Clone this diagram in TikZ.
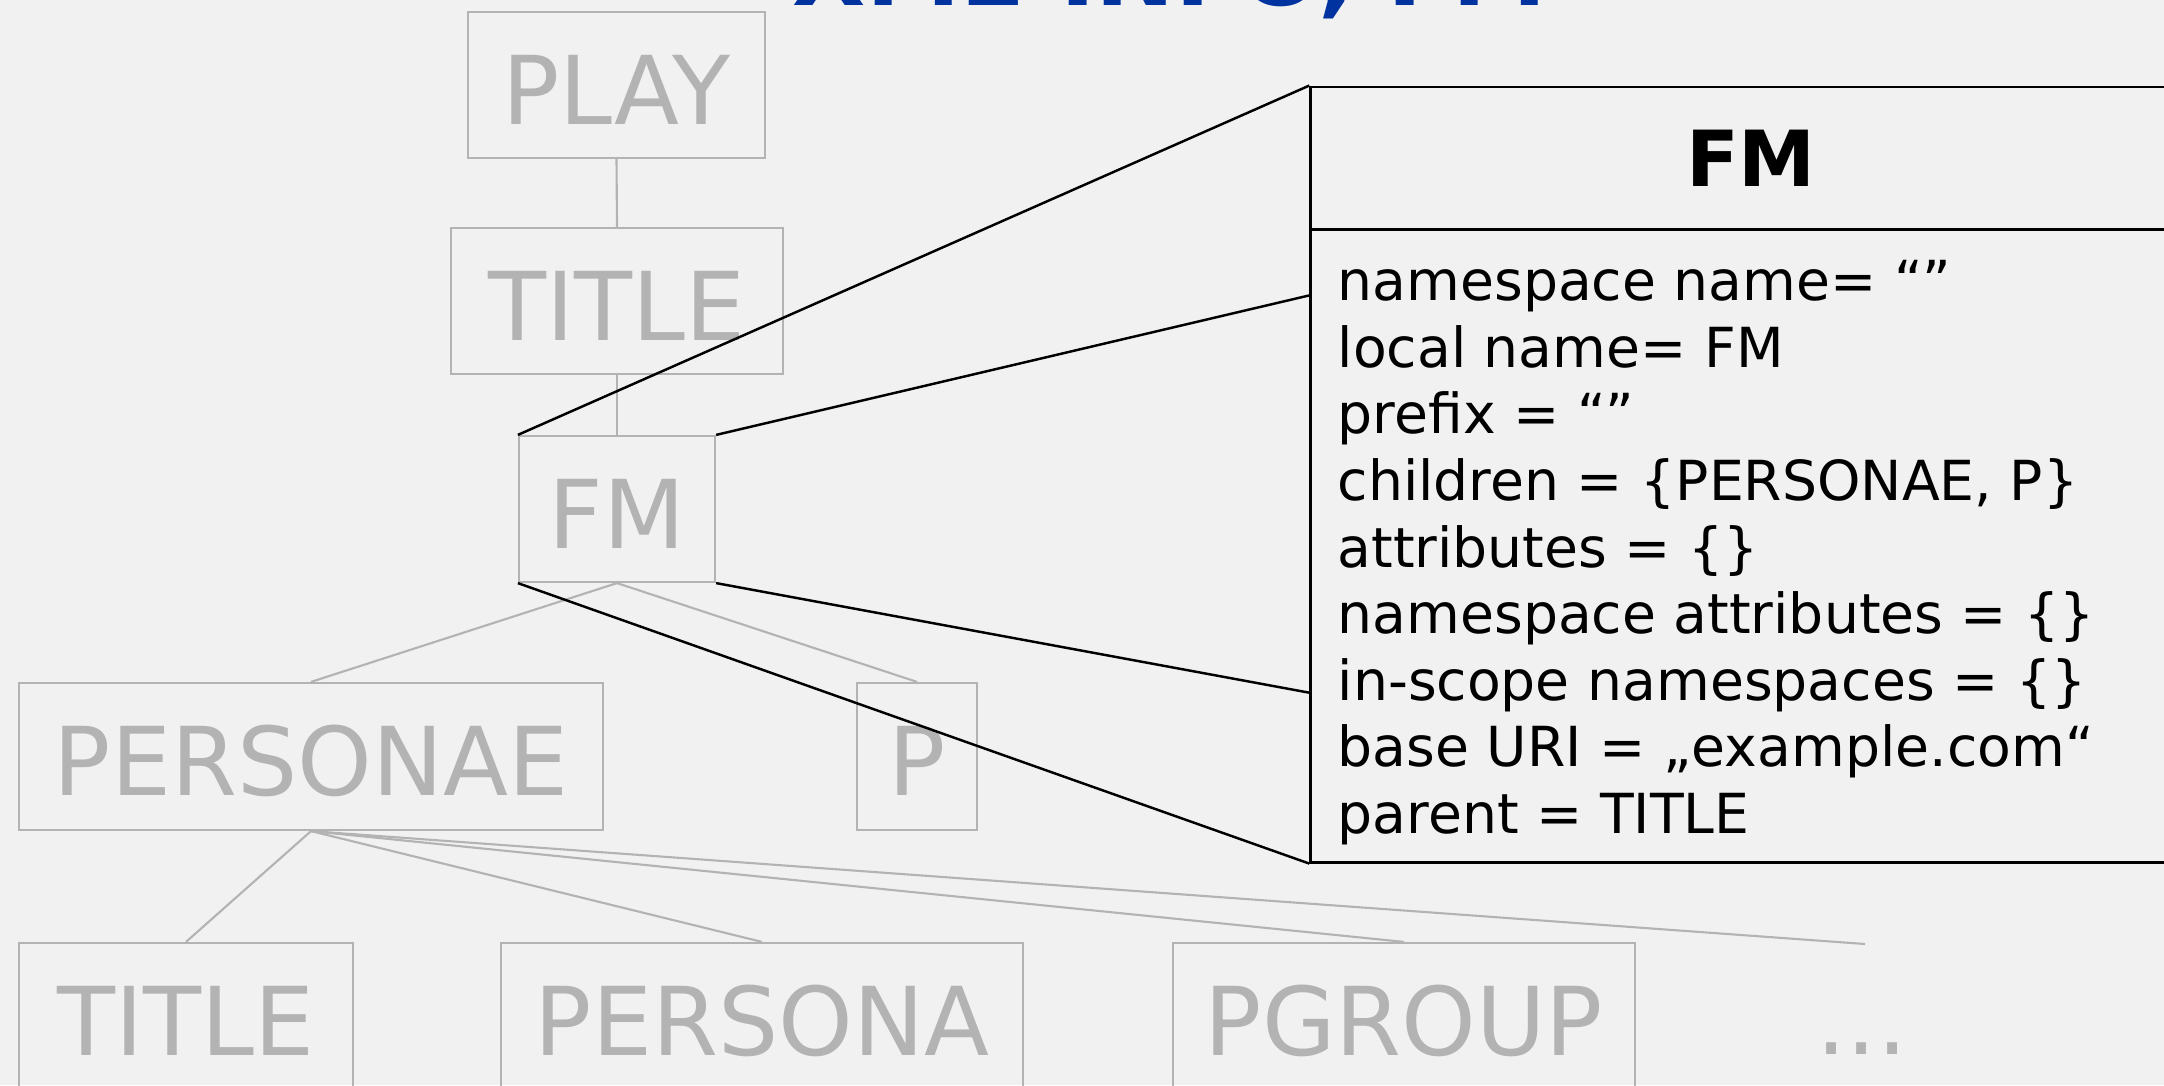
\documentclass[tikz,border=0pt]{standalone}
\usepackage{fontspec}
\setmainfont{DejaVu Sans}
\definecolor{bg}{RGB}{241,241,241}
\definecolor{treegray}{RGB}{179,179,179}
\definecolor{titleblue}{RGB}{0,51,160}
\begin{document}
\begin{tikzpicture}[x=0.01cm,y=-0.01cm,
  treebox/.style={draw=treegray,line width=0.6pt,inner sep=0pt,text=treegray,
    font=\fontsize{27pt}{32pt}\selectfont,text height=0.78cm,text depth=0pt},
  treeline/.style={draw=treegray,line width=0.6pt},
  zoomline/.style={draw=black,line width=0.7pt},
  infobox/.style={draw=black,line width=0.8pt,inner sep=0pt,minimum width=8.8cm},
  infoline/.style={anchor=base west,inner sep=0pt,font=\fontsize{15.7pt}{19pt}\selectfont}]
\useasboundingbox (0,0) rectangle (2164,1085);
\clip (0,0) rectangle (2164,1085);
\fill[bg] (0,0) rectangle (2164,1085);

% slide heading
\node[anchor=base,inner sep=0pt,text=titleblue,font=\bfseries\fontsize{27pt}{32pt}\selectfont] (heading) at (1170,6) {XML-INFO, FM};

% document tree
\node[treebox,minimum width=2.97cm,minimum height=1.46cm] (play) at (616.5,85) {PLAY};
\node[treebox,minimum width=3.32cm,minimum height=1.46cm] (title1) at (617,301) {TITLE};
\node[treebox,minimum width=1.96cm,minimum height=1.46cm] (fm) at (617,509) {FM};
\node[treebox,minimum width=5.84cm,minimum height=1.47cm] (personae) at (311,756.5) {PERSONAE};
\node[treebox,minimum width=1.20cm,minimum height=1.47cm] (p) at (917,756.5) {P};
\node[treebox,minimum width=3.34cm,minimum height=1.47cm] (title2) at (186,1016.5) {TITLE};
\node[treebox,minimum width=5.22cm,minimum height=1.47cm] (persona) at (762,1016.5) {PERSONA};
\node[treebox,minimum width=4.62cm,minimum height=1.47cm] (pgroup) at (1404,1016.5) {PGROUP};
\node[anchor=base,inner sep=0pt,text=treegray,font=\fontsize{27pt}{32pt}\selectfont] (dots) at (1862,1054) {...};
\coordinate (more) at (1865,944);

\draw[treeline] (play.south) -- (title1.north);
\draw[treeline] (title1.south) -- (fm.north);
\draw[treeline] (fm.south) -- (personae.north);
\draw[treeline] (fm.south) -- (p.north);
\draw[treeline] (personae.south) -- (title2.north);
\draw[treeline] (personae.south) -- (persona.north);
\draw[treeline] (personae.south) -- (pgroup.north);
\draw[treeline] (personae.south) -- (more);

% detail box for FM
\node[infobox,minimum height=1.43cm,font=\bfseries\fontsize{22pt}{26pt}\selectfont] (infohead) at (1751,158.5) {FM};
\node[infobox,minimum height=6.32cm] (infobody) at (1751,546) {};
\coordinate (zin1) at (1311,295);
\coordinate (zin2) at (1311,693);

\node[infoline] (l1) at (1337,300) {namespace name= “”};
\node[infoline] (l2) at (1337,367) {local name= FM};
\node[infoline] (l3) at (1337,433) {prefix = “”};
\node[infoline] (l4) at (1337,500) {children = \{PERSONAE, P\}};
\node[infoline] (l5) at (1337,567) {attributes = \{\}};
\node[infoline] (l6) at (1337,633) {namespace attributes = \{\}};
\node[infoline] (l7) at (1337,700) {in-scope namespaces = \{\}};
\node[infoline] (l8) at (1337,766) {base URI = „example.com“};
\node[infoline] (l9) at (1337,833) {parent = TITLE};

% zoom lines from the tree node to its detail box
\draw[zoomline] (fm.north west) -- (infohead.north west);
\draw[zoomline] (fm.north east) -- (zin1);
\draw[zoomline] (fm.south east) -- (zin2);
\draw[zoomline] (fm.south west) -- (infobody.south west);
\end{tikzpicture}
\end{document}
